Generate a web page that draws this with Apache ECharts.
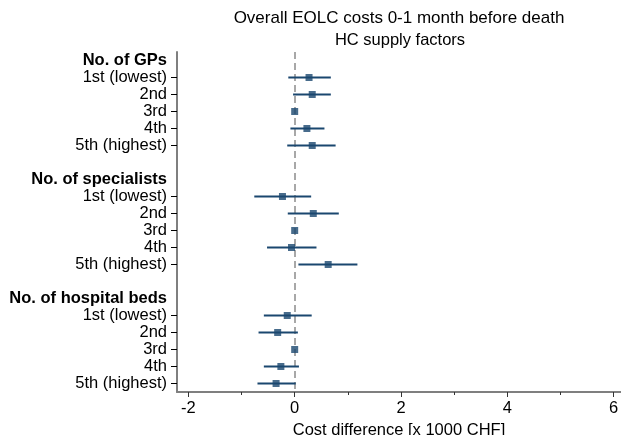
<!DOCTYPE html>
<html>
<head>
<meta charset="utf-8">
<script src="https://cdn.jsdelivr.net/npm/echarts@6/dist/echarts.min.js"></script>
<style>
html,body{margin:0;padding:0;background:#fff;}
#chart{width:621px;height:435px;}
</style>
</head>
<body>
<div id="chart"></div>
<script>
// Row labels (top to bottom)
const rowLabels = [
  'No. of GPs', '1st (lowest)', '2nd', '3rd', '4th', '5th (highest)', '',
  'No. of specialists', '1st (lowest)', '2nd', '3rd', '4th', '5th (highest)', '',
  'No. of hospital beds', '1st (lowest)', '2nd', '3rd', '4th', '5th (highest)'
];
const headerRows = [0, 7, 14];
const blankRows = [6, 13];

// Estimates (x 1000 CHF), quintiles 1st..5th; 3rd is the reference
const gpsEst  = [0.27, 0.33, 0, 0.23, 0.33];
const gpsLo   = [-0.12, -0.03, null, -0.08, -0.14];
const gpsHi   = [0.68, 0.68, null, 0.56, 0.77];

const specEst = [-0.23, 0.35, 0, -0.06, 0.63];
const specLo  = [-0.76, -0.13, null, -0.52, 0.07];
const specHi  = [0.31, 0.83, null, 0.41, 1.18];

const bedsEst = [-0.14, -0.32, 0, -0.26, -0.35];
const bedsLo  = [-0.58, -0.68, null, -0.58, -0.70];
const bedsHi  = [0.32, 0.06, null, 0.08, 0.02];

const xMajorTicks = [-2, 0, 2, 4, 6];
const xMinorTicks = [-1, 1, 3, 5];

const groups = [
  {start: 1, est: gpsEst, lo: gpsLo, hi: gpsHi},
  {start: 8, est: specEst, lo: specLo, hi: specHi},
  {start: 15, est: bedsEst, lo: bedsLo, hi: bedsHi}
];
const pointData = [];
const ciData = [];
groups.forEach(g => {
  g.est.forEach((v, i) => {
    const row = g.start + i;
    pointData.push([v, row]);
    if (g.lo[i] !== null) ciData.push([g.lo[i], g.hi[i], row]);
  });
});

const NAVY = '#1a476f';
const FONT = 'Liberation Sans, Arial, Helvetica, sans-serif';
const FS = 16.5;
const chart = echarts.init(document.getElementById('chart'), null, {renderer: 'canvas'});
const xMin = -2.214, xMax = 6.139;
chart.setOption({
  animation: false,
  backgroundColor: '#fff',
  grid: {left: 177, top: 52, width: 444, height: 340, containLabel: false, outerBoundsMode: 'none'},
  graphic: [
    {type: 'text', x: 399, y: 18, style: {text: 'Overall EOLC costs 0-1 month before death', font: '17px ' + FONT, fill: '#000', textAlign: 'center', textVerticalAlign: 'middle'}},
    {type: 'text', x: 400, y: 40, style: {text: 'HC supply factors', font: '16.5px ' + FONT, fill: '#000', textAlign: 'center', textVerticalAlign: 'middle'}}
  ],
  xAxis: [{
    type: 'value', min: xMin, max: xMax, position: 'bottom',
    axisLine: {show: true, onZero: false, lineStyle: {color: '#7f7f7f', width: 2}},
    axisTick: {show: true, length: 5, customValues: xMajorTicks, lineStyle: {color: '#333', width: 1}},
    axisLabel: {customValues: xMajorTicks, margin: 8, fontSize: FS, color: '#000', fontFamily: FONT},
    splitLine: {show: false},
    name: 'Cost difference [x 1000 CHF]', nameLocation: 'middle', nameGap: 27,
    nameTextStyle: {fontSize: FS, color: '#000', fontFamily: FONT}
  }, {
    type: 'value', min: xMin, max: xMax, position: 'bottom', gridIndex: 0,
    axisLine: {show: false, onZero: false},
    axisTick: {show: true, length: 3, customValues: xMinorTicks, lineStyle: {color: '#333', width: 1}},
    axisLabel: {show: false},
    splitLine: {show: false}
  }],
  yAxis: {
    type: 'category', inverse: true, data: rowLabels, boundaryGap: true, position: 'left',
    axisLine: {show: true, onZero: false, lineStyle: {color: '#7f7f7f', width: 2}},
    axisTick: {show: true, alignWithLabel: true, length: 6,
      interval: (idx) => headerRows.indexOf(idx) < 0 && blankRows.indexOf(idx) < 0,
      lineStyle: {color: '#000', width: 1}},
    axisLabel: {
      interval: 0, margin: 10, fontSize: FS, color: '#000', fontFamily: FONT,
      formatter: (val, idx) => headerRows.indexOf(idx) >= 0 ? '{b|' + val + '}' : val,
      rich: {b: {fontWeight: 'bold', fontSize: FS, color: '#000', fontFamily: FONT}}
    },
    splitLine: {show: false}
  },
  series: [{
    type: 'line',
    xAxisIndex: 0,
    data: [],
    z: 1,
    markLine: {
      z: 1,
      silent: true, symbol: 'none', label: {show: false},
      lineStyle: {color: '#a8a8a8', type: [7, 4], width: 2},
      data: [{xAxis: 0}]
    }
  }, {
    type: 'custom',
    xAxisIndex: 0,
    data: ciData,
    encode: {x: [0, 1], y: 2},
    renderItem: (params, api) => {
      const a = api.coord([api.value(0), api.value(2)]);
      const b = api.coord([api.value(1), api.value(2)]);
      return {type: 'line', shape: {x1: a[0], y1: a[1], x2: b[0], y2: b[1]},
        style: {stroke: NAVY, lineWidth: 2}};
    },
    z: 3
  }, {
    type: 'scatter',
    xAxisIndex: 0,
    data: pointData,
    symbol: 'rect', symbolSize: 7,
    itemStyle: {color: NAVY},
    z: 4
  }]
});
</script>
</body>
</html>
